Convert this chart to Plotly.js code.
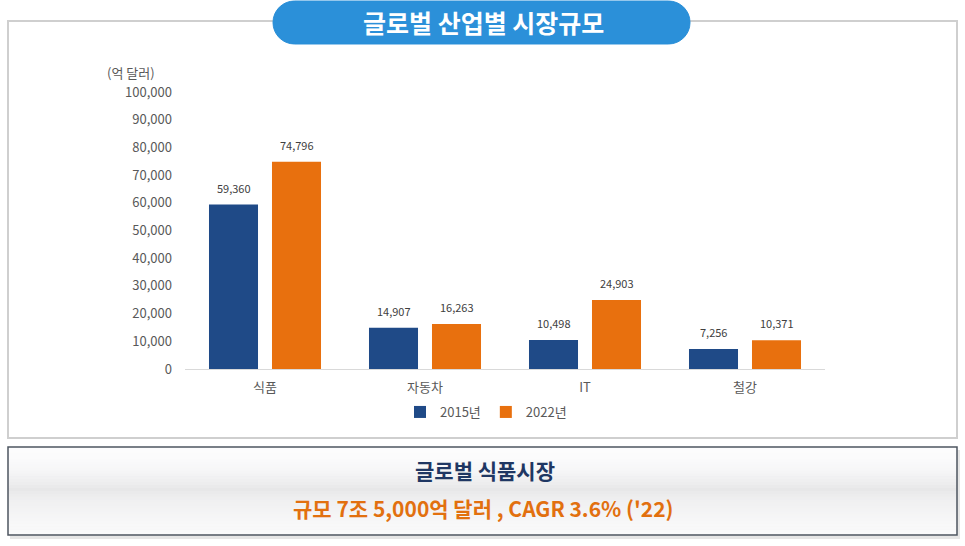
<!DOCTYPE html>
<html>
<head>
<meta charset="utf-8">
<script src="https://cdn.plot.ly/plotly-3.0.1.min.js"></script>
<style>
  html, body { margin: 0; padding: 0; background: #fff; }
  #chart { width: 965px; height: 546px; }
</style>
</head>
<body>
<div id="chart"></div>
<script>
// Data (unit: 억 달러)
const categories = ['식품', '자동차', 'IT', '철강'];
const seriesNames = ['2015년', '2022년'];
const values2015 = [59360, 14907, 10498, 7256];
const values2022 = [74796, 16263, 24903, 10371];
const yTicks = [0, 10000, 20000, 30000, 40000, 50000, 60000, 70000, 80000, 90000, 100000];

const FONT = '"Noto Sans CJK KR", "Noto Sans", sans-serif';
const BLUE = '#1f4a87';
const ORANGE = '#e8700e';

// plot area in page pixels, used to place the frame decorations
const L = 185, R = 825, T = 92, B = 369;
const px = x => (x - L) / (R - L);
const py = y => (B - y) / (B - T);

// rounded pill outline as a path in paper units
function pill(x0, y0, x1, y1) {
    const r = (y1 - y0) / 2, k = 0.5523 * r;
    const pts = [
        ['M', x0 + r, y0],
        ['L', x1 - r, y0],
        ['C', x1 - r + k, y0, x1, y0 + r - k, x1, y0 + r],
        ['C', x1, y0 + r + k, x1 - r + k, y1, x1 - r, y1],
        ['L', x0 + r, y1],
        ['C', x0 + r - k, y1, x0, y0 + r + k, x0, y0 + r],
        ['C', x0, y0 + r - k, x0 + r - k, y0, x0 + r, y0]
    ];
    return pts.map(p => {
        let s = p[0];
        for (let i = 1; i < p.length; i += 2) {
            s += (i > 1 ? ' ' : '') + px(p[i]).toFixed(4) + ',' + py(p[i + 1]).toFixed(4);
        }
        return s;
    }).join(' ') + ' Z';
}

const shapes = [];

// outer frame of the chart
shapes.push({
    type: 'rect', xref: 'paper', yref: 'paper', layer: 'below',
    x0: px(8), x1: px(957), y0: py(21), y1: py(438),
    line: { color: '#cfcfcf', width: 2 }, fillcolor: 'rgba(0,0,0,0)'
});

// bottom summary box: soft shadow, then gradient strips, then border
shapes.push({
    type: 'rect', xref: 'paper', yref: 'paper', layer: 'below',
    x0: px(10), x1: px(960), y0: py(450), y1: py(539),
    line: { width: 0 }, fillcolor: '#e6e6e6'
});
const boxTop = 447, boxBot = 535, strips = 30;
for (let i = 0; i < strips; i++) {
    const a = boxTop + (boxBot - boxTop) * i / strips;
    const b = boxTop + (boxBot - boxTop) * (i + 1) / strips;
    const t = (i + 0.5) / strips;
    // light at top, grey band near the middle, light again at bottom
    let g;
    if (t < 0.5) g = 252 - (252 - 230) * Math.pow(t / 0.5, 2);
    else g = 230 + (250 - 230) * Math.sqrt((t - 0.5) / 0.5);
    g = Math.round(g);
    shapes.push({
        type: 'rect', xref: 'paper', yref: 'paper', layer: 'below',
        x0: px(8), x1: px(957), y0: py(a), y1: py(b + 0.5),
        line: { width: 0 }, fillcolor: `rgb(${g},${g},${g + 1})`
    });
}
shapes.push({
    type: 'rect', xref: 'paper', yref: 'paper',
    x0: px(8), x1: px(957), y0: py(boxTop), y1: py(boxBot),
    line: { color: '#4d5560', width: 1.5 }, fillcolor: 'rgba(0,0,0,0)'
});

// title pill
shapes.push({
    type: 'path', xref: 'paper', yref: 'paper',
    path: pill(273, 1, 690, 44),
    line: { color: '#2a8fd8', width: 1 }, fillcolor: '#2b90d9'
});

const traces = [
    {
        type: 'bar', name: seriesNames[0], x: categories, y: values2015,
        marker: { color: BLUE }, hoverinfo: 'skip'
    },
    {
        type: 'bar', name: seriesNames[1], x: categories, y: values2022,
        marker: { color: ORANGE }, hoverinfo: 'skip'
    }
];

// value labels above each bar
const annotations = [];
const fmt = v => v.toLocaleString('en-US');
const offset = 31.5;
categories.forEach((c, i) => {
    [[values2015[i], -offset], [values2022[i], offset]].forEach(([v, dx]) => {
        annotations.push({
            x: c, y: v, xref: 'x', yref: 'y', xshift: dx, yshift: 17,
            xanchor: 'center', yanchor: 'middle',
            text: fmt(v), showarrow: false,
            font: { family: FONT, size: 11, color: '#404040' }
        });
    });
});

const note = (x, y, text, size, color) => ({
    xref: 'paper', yref: 'paper', x: px(x), y: py(y),
    xanchor: 'center', yanchor: 'middle', showarrow: false,
    text: text, font: { family: FONT, size: size, color: color }
});

annotations.push(
    note(131, 72, '(억 달러)', 13, '#595959'),
    note(483, 22, '<b>글로벌 산업별 시장규모</b>', 25, '#ffffff'),
    note(485, 470, '<b>글로벌 식품시장</b>', 21, '#1f3763'),
    note(483, 508, "<b>규모 7조 5,000억 달러 , CAGR 3.6% ('22)</b>", 21, '#e2700f')
);

const layout = {
    width: 965, height: 546,
    margin: { l: L, r: 965 - R, t: T, b: 546 - B },
    paper_bgcolor: '#ffffff', plot_bgcolor: 'rgba(0,0,0,0)',
    font: { family: FONT, color: '#595959' },
    barmode: 'group', bargap: 0.2125, bargroupgap: 0.222,
    showlegend: true,
    legend: {
        orientation: 'h', x: px(486), y: py(412), xanchor: 'center', yanchor: 'middle',
        font: { family: FONT, size: 13, color: '#595959' },
        itemwidth: 30, tracegroupgap: 0
    },
    xaxis: {
        type: 'category', showgrid: false, zeroline: false,
        showline: true, linecolor: '#d9d9d9', linewidth: 1,
        ticks: '', tickfont: { family: FONT, size: 13, color: '#595959' },
        ticklabelstandoff: 6
    },
    yaxis: {
        range: [0, 100000], tickvals: yTicks, tickformat: ',',
        showgrid: false, zeroline: false, showline: false, ticks: '',
        tickfont: { family: FONT, size: 13, color: '#595959' },
        ticklabelstandoff: 12
    },
    shapes: shapes,
    annotations: annotations
};

Plotly.newPlot('chart', traces, layout, { displayModeBar: false, staticPlot: true });
</script>
</body>
</html>
